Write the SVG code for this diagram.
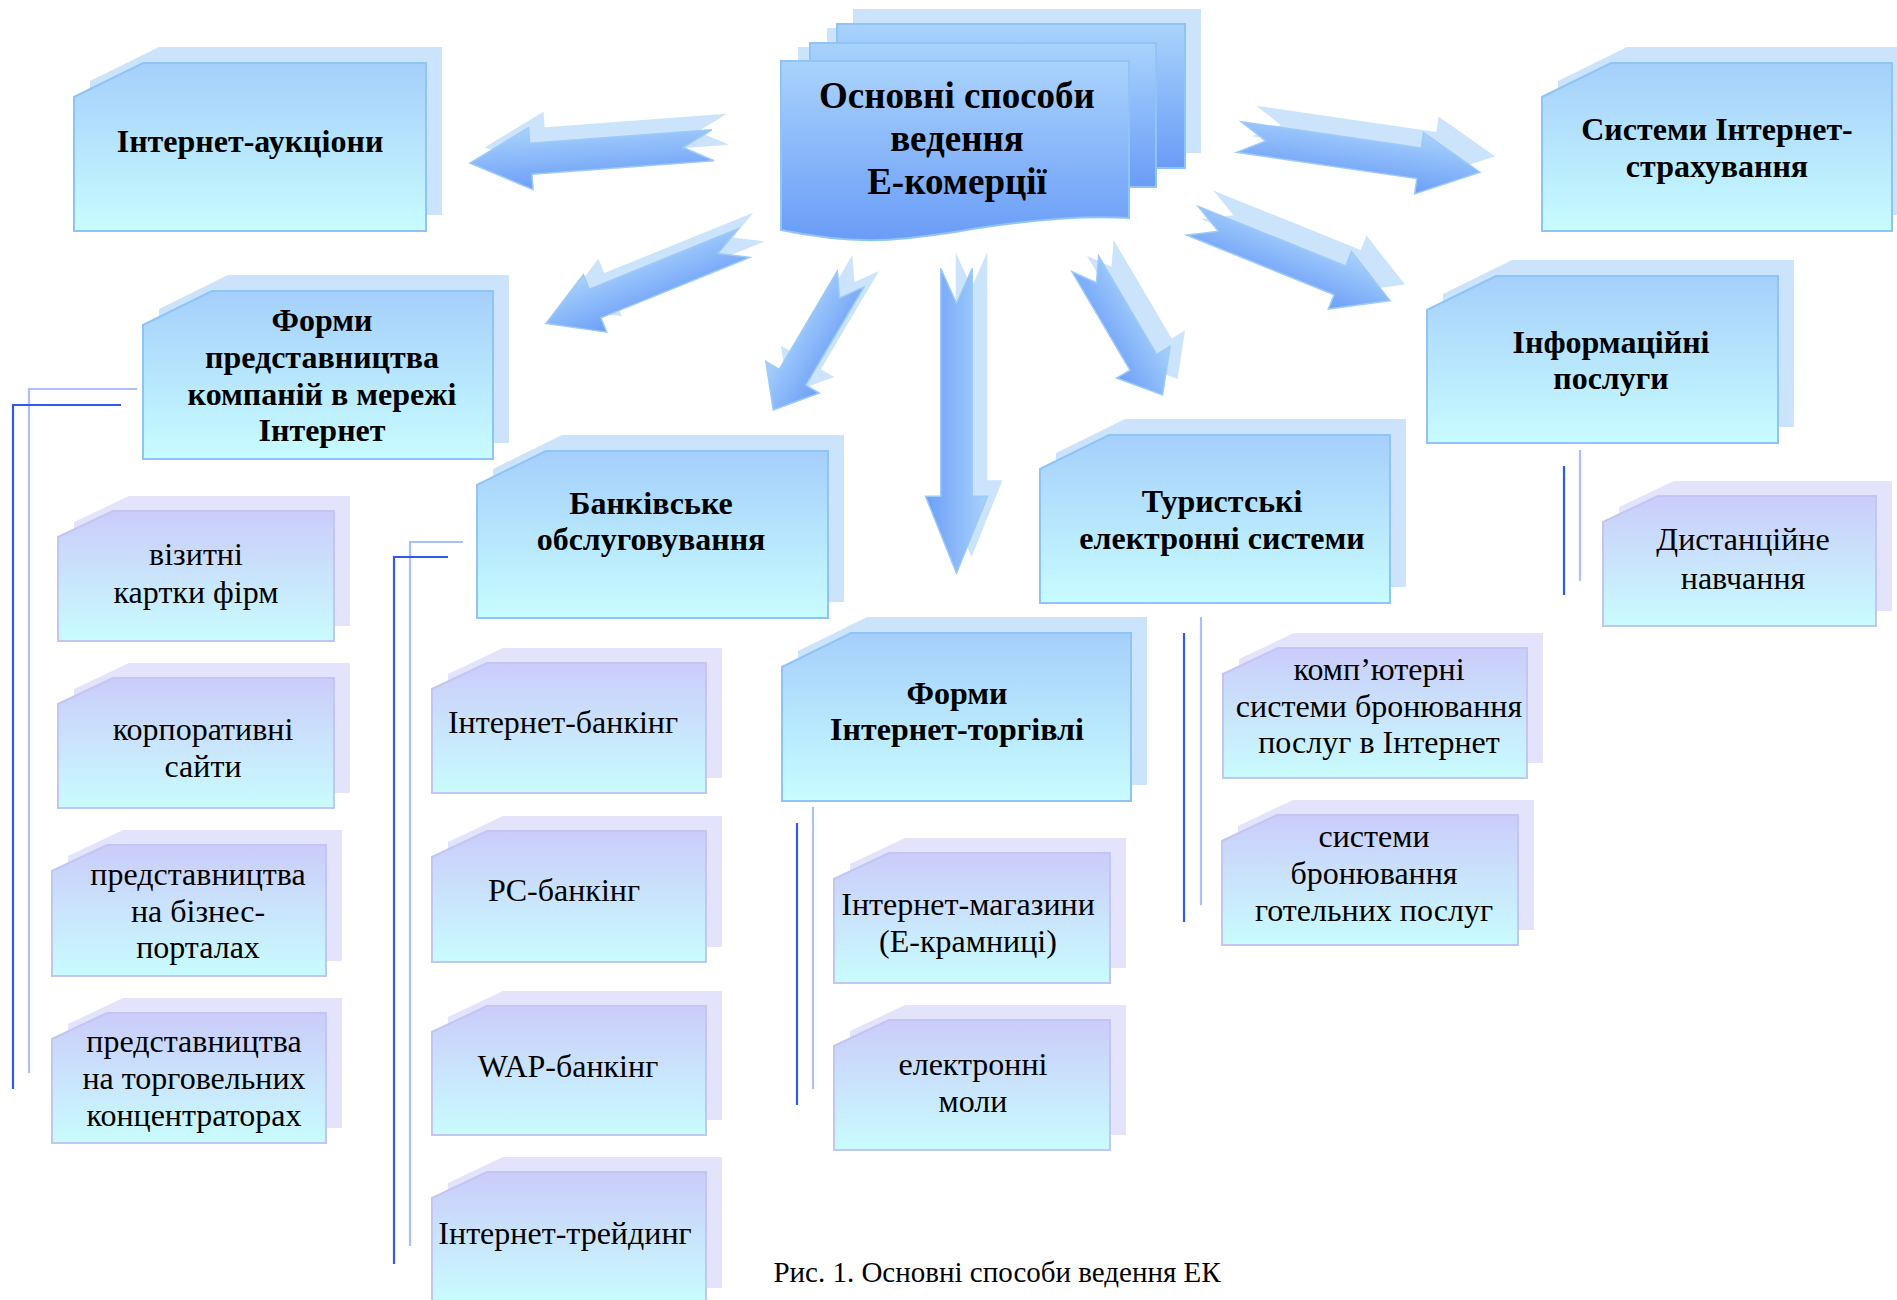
<svg xmlns="http://www.w3.org/2000/svg" width="1897" height="1300" viewBox="0 0 1897 1300">
<defs>
<linearGradient id="gBlue" x1="0" y1="0" x2="0" y2="1"><stop offset="0" stop-color="#a5cffb"/><stop offset="1" stop-color="#c8fcff"/></linearGradient>
<linearGradient id="gPur" x1="0" y1="0" x2="0" y2="1"><stop offset="0" stop-color="#cbccfa"/><stop offset="1" stop-color="#c8fcfe"/></linearGradient>
<linearGradient id="gCen" x1="0" y1="0" x2="0" y2="1"><stop offset="0" stop-color="#a9d3fc"/><stop offset="1" stop-color="#6a9cf7"/></linearGradient>
<linearGradient id="gArr" x1="0" y1="0" x2="0" y2="1"><stop offset="0" stop-color="#a8d2fc"/><stop offset="1" stop-color="#6c9ef7"/></linearGradient>
<style>
.nb{fill:url(#gBlue);stroke:#8fc5f6;stroke-width:2}
.ns{fill:#cce4fb}
.pb{fill:url(#gPur);stroke:#c3c6f3;stroke-width:2}
.ps{fill:#e3e3fb}
.cb{fill:url(#gCen);stroke:#8fc5f6;stroke-width:2}
.t{font-family:"Liberation Serif","Times New Roman",serif;font-size:32px;text-anchor:middle;fill:#000}
.tb{font-weight:bold}
.arr{fill:url(#gArr);stroke:#9ccaf9;stroke-width:1.5}
.arrs{fill:#cce4fb}
.ld{stroke:#3358ee;stroke-width:2.2;fill:none}
.ll{stroke:#a9c0f8;stroke-width:2.2;fill:none}
</style>
</defs>
<rect width="1897" height="1300" fill="#fff"/>

<g id="connectors">
<path class="arrs" d="M0,-15.5 H182.7 V-31 L243.7,0 L182.7,31 V15.5 H0 L30,0 Z" transform="translate(728,129.3) rotate(175.8) scale(1,-1)"/>
<path class="arr" d="M0,-15.5 H182.7 V-31 L243.7,0 L182.7,31 V15.5 H0 L30,0 Z" transform="translate(713,145.3) rotate(175.8) scale(1,-1)"/>
<path class="arrs" d="M0,-15.5 H160.7 V-31 L213.7,0 L160.7,31 V15.5 H0 L28,0 Z" transform="translate(759,227) rotate(157.9) scale(1,-1)"/>
<path class="arr" d="M0,-15.5 H160.7 V-31 L213.7,0 L160.7,31 V15.5 H0 L28,0 Z" transform="translate(744,243) rotate(157.9) scale(1,-1)"/>
<path class="arrs" d="M0,-15.5 H114.2 V-31 L152.2,0 L114.2,31 V15.5 H0 L22,0 Z" transform="translate(865.7,263) rotate(120.6) scale(1,-1)"/>
<path class="arr" d="M0,-15.5 H114.2 V-31 L152.2,0 L114.2,31 V15.5 H0 L22,0 Z" transform="translate(850.7,279) rotate(120.6) scale(1,-1)"/>
<path class="arrs" d="M0,-15.8 H228 V-31 L305,0 L228,31 V15.8 H0 L35,0 Z" transform="translate(971.5,252.3) rotate(90)"/>
<path class="arr" d="M0,-15.8 H228 V-31 L305,0 L228,31 V15.8 H0 L35,0 Z" transform="translate(956.5,268.3) rotate(90)"/>
<path class="arrs" d="M0,-15.5 H114.3 V-31 L152.3,0 L114.3,31 V15.5 H0 L22,0 Z" transform="translate(1100.3,247.8) rotate(59.5)"/>
<path class="arr" d="M0,-15.5 H114.3 V-31 L152.3,0 L114.3,31 V15.5 H0 L22,0 Z" transform="translate(1085.3,263.8) rotate(59.5)"/>
<path class="arrs" d="M0,-15.5 H159 V-31 L213,0 L159,31 V15.5 H0 L28,0 Z" transform="translate(1207.5,204.8) rotate(22)"/>
<path class="arr" d="M0,-15.5 H159 V-31 L213,0 L159,31 V15.5 H0 L28,0 Z" transform="translate(1192.5,220.8) rotate(22)"/>
<path class="arrs" d="M0,-15.5 H182 V-31 L243.5,0 L182,31 V15.5 H0 L27,0 Z" transform="translate(1254,121) rotate(8.3)"/>
<path class="arr" d="M0,-15.5 H182 V-31 L243.5,0 L182,31 V15.5 H0 L27,0 Z" transform="translate(1239,137) rotate(8.3)"/>

<polyline class="ll" points="137,389 29,389 29,1073"/>
<polyline class="ld" points="121,405 13,405 13,1089"/>
<polyline class="ll" points="463,542 410,542 410,1246"/>
<polyline class="ld" points="448,557 394,557 394,1264"/>
<line class="ll" x1="813" y1="807" x2="813" y2="1089"/>
<line class="ld" x1="797" y1="823" x2="797" y2="1105"/>
<line class="ll" x1="1201" y1="617" x2="1201" y2="905"/>
<line class="ld" x1="1184" y1="633" x2="1184" y2="922"/>
<line class="ll" x1="1580" y1="450" x2="1580" y2="581"/>
<line class="ld" x1="1564" y1="466" x2="1564" y2="595"/>
</g>

<g id="center">
<rect class="ns" x="853" y="9" width="348" height="144"/>
<rect class="ns" x="827" y="28" width="14" height="130"/>
<rect class="cb" x="837" y="24" width="348" height="144"/>
<rect class="ns" x="798" y="47" width="14" height="150"/>
<rect class="cb" x="810" y="43" width="346" height="144"/>
<path class="cb" d="M781,61 H1129 V218 C1090,216 1050,218 1000,225 C960,230 930,238 880,240 C850,241 820,238 781,230 Z"/>
<text class="t tb" style="font-size:37px"><tspan x="957" y="108">Основні способи</tspan><tspan x="957" y="151">ведення</tspan><tspan x="957" y="194">Е-комерції</tspan></text>
</g>

<g id="n-auctions">
<path class="ns" d="M74,97 L143,63 H426 V231 H74 Z" transform="translate(16,-16)"/>
<path class="nb" d="M74,97 L143,63 H426 V231 H74 Z"/>
<text class="t tb" x="250" y="152">Інтернет-аукціони</text>
</g>

<g id="n-forms-rep">
<path class="ns" d="M143,325 L212,291 H493 V459 H143 Z" transform="translate(16,-16)"/>
<path class="nb" d="M143,325 L212,291 H493 V459 H143 Z"/>
<text class="t tb"><tspan x="322" y="331">Форми</tspan><tspan x="322" y="368">представництва</tspan><tspan x="322" y="405">компаній в мережі</tspan><tspan x="322" y="441">Інтернет</tspan></text>
</g>

<g id="n-insurance">
<path class="ns" d="M1542,97 L1611,63 H1892 V231 H1542 Z" transform="translate(16,-16)"/>
<path class="nb" d="M1542,97 L1611,63 H1892 V231 H1542 Z"/>
<text class="t tb"><tspan x="1717" y="140">Системи Інтернет-</tspan><tspan x="1717" y="177">страхування</tspan></text>
</g>

<g id="n-info">
<path class="ns" d="M1427,310 L1496,276 H1778 V443 H1427 Z" transform="translate(16,-16)"/>
<path class="nb" d="M1427,310 L1496,276 H1778 V443 H1427 Z"/>
<text class="t tb"><tspan x="1611" y="353">Інформаційні</tspan><tspan x="1611" y="389">послуги</tspan></text>
</g>

<g id="n-bank">
<path class="ns" d="M477,485 L546,451 H828 V618 H477 Z" transform="translate(16,-16)"/>
<path class="nb" d="M477,485 L546,451 H828 V618 H477 Z"/>
<text class="t tb"><tspan x="651" y="514">Банківське</tspan><tspan x="651" y="550">обслуговування</tspan></text>
</g>

<g id="n-tour">
<path class="ns" d="M1040,469 L1109,435 H1390 V603 H1040 Z" transform="translate(16,-16)"/>
<path class="nb" d="M1040,469 L1109,435 H1390 V603 H1040 Z"/>
<text class="t tb"><tspan x="1222" y="512">Туристські</tspan><tspan x="1222" y="549">електронні системи</tspan></text>
</g>

<g id="n-trade">
<path class="ns" d="M782,667 L851,633 H1131 V801 H782 Z" transform="translate(16,-16)"/>
<path class="nb" d="M782,667 L851,633 H1131 V801 H782 Z"/>
<text class="t tb"><tspan x="957" y="704">Форми</tspan><tspan x="957" y="740">Інтернет-торгівлі</tspan></text>
</g>

<g id="p-cards">
<path class="ps" d="M58,537 L113,511 H334 V641 H58 Z" transform="translate(16,-15)"/>
<path class="pb" d="M58,537 L113,511 H334 V641 H58 Z"/>
<text class="t"><tspan x="196" y="565">візитні</tspan><tspan x="196" y="603">картки фірм</tspan></text>
</g>
<g id="p-corp">
<path class="ps" d="M58,704 L113,678 H334 V808 H58 Z" transform="translate(16,-15)"/>
<path class="pb" d="M58,704 L113,678 H334 V808 H58 Z"/>
<text class="t"><tspan x="203" y="740">корпоративні</tspan><tspan x="203" y="777">сайти</tspan></text>
</g>
<g id="p-portals">
<path class="ps" d="M52,871 L107,845 H326 V976 H52 Z" transform="translate(16,-15)"/>
<path class="pb" d="M52,871 L107,845 H326 V976 H52 Z"/>
<text class="t"><tspan x="198" y="885">представництва</tspan><tspan x="198" y="922">на бізнес-</tspan><tspan x="198" y="958">порталах</tspan></text>
</g>
<g id="p-hubs">
<path class="ps" d="M52,1039 L107,1013 H326 V1143 H52 Z" transform="translate(16,-15)"/>
<path class="pb" d="M52,1039 L107,1013 H326 V1143 H52 Z"/>
<text class="t"><tspan x="194" y="1052">представництва</tspan><tspan x="194" y="1089">на торговельних</tspan><tspan x="194" y="1126">концентраторах</tspan></text>
</g>

<g id="q-ibank">
<path class="ps" d="M432,689 L487,663 H706 V793 H432 Z" transform="translate(16,-15)"/>
<path class="pb" d="M432,689 L487,663 H706 V793 H432 Z"/>
<text class="t" x="563" y="733">Інтернет-банкінг</text>
</g>
<g id="q-pcbank">
<path class="ps" d="M432,857 L487,831 H706 V962 H432 Z" transform="translate(16,-15)"/>
<path class="pb" d="M432,857 L487,831 H706 V962 H432 Z"/>
<text class="t" x="564" y="901">PC-банкінг</text>
</g>
<g id="q-wapbank">
<path class="ps" d="M432,1032 L487,1006 H706 V1135 H432 Z" transform="translate(16,-15)"/>
<path class="pb" d="M432,1032 L487,1006 H706 V1135 H432 Z"/>
<text class="t" x="568" y="1077">WAP-банкінг</text>
</g>
<g id="q-trading">
<path class="ps" d="M432,1198 L487,1172 H706 V1303 H432 Z" transform="translate(16,-15)"/>
<path class="pb" d="M432,1198 L487,1172 H706 V1303 H432 Z"/>
<text class="t" x="565" y="1244">Інтернет-трейдинг</text>
</g>

<g id="r-shops">
<path class="ps" d="M834,879 L889,853 H1110 V983 H834 Z" transform="translate(16,-15)"/>
<path class="pb" d="M834,879 L889,853 H1110 V983 H834 Z"/>
<text class="t"><tspan x="968" y="915">Інтернет-магазини</tspan><tspan x="968" y="952">(Е-крамниці)</tspan></text>
</g>
<g id="r-malls">
<path class="ps" d="M834,1046 L889,1020 H1110 V1150 H834 Z" transform="translate(16,-15)"/>
<path class="pb" d="M834,1046 L889,1020 H1110 V1150 H834 Z"/>
<text class="t"><tspan x="973" y="1075">електронні</tspan><tspan x="973" y="1112">моли</tspan></text>
</g>

<g id="s-booking">
<path class="ps" d="M1223,674 L1278,648 H1527 V778 H1223 Z" transform="translate(16,-15)"/>
<path class="pb" d="M1223,674 L1278,648 H1527 V778 H1223 Z"/>
<text class="t"><tspan x="1379" y="680">комп’ютерні</tspan><tspan x="1379" y="717">системи бронювання</tspan><tspan x="1379" y="753">послуг в Інтернет</tspan></text>
</g>
<g id="s-hotels">
<path class="ps" d="M1222,841 L1277,815 H1518 V945 H1222 Z" transform="translate(16,-15)"/>
<path class="pb" d="M1222,841 L1277,815 H1518 V945 H1222 Z"/>
<text class="t"><tspan x="1374" y="847">системи</tspan><tspan x="1374" y="884">бронювання</tspan><tspan x="1374" y="921">готельних послуг</tspan></text>
</g>

<g id="t-distance">
<path class="ps" d="M1603,522 L1658,496 H1876 V626 H1603 Z" transform="translate(16,-15)"/>
<path class="pb" d="M1603,522 L1658,496 H1876 V626 H1603 Z"/>
<text class="t"><tspan x="1743" y="550">Дистанційне</tspan><tspan x="1743" y="589">навчання</tspan></text>
</g>

<text class="t" style="font-size:29px" x="997" y="1282">Рис. 1. Основні способи ведення ЕК</text>
</svg>
